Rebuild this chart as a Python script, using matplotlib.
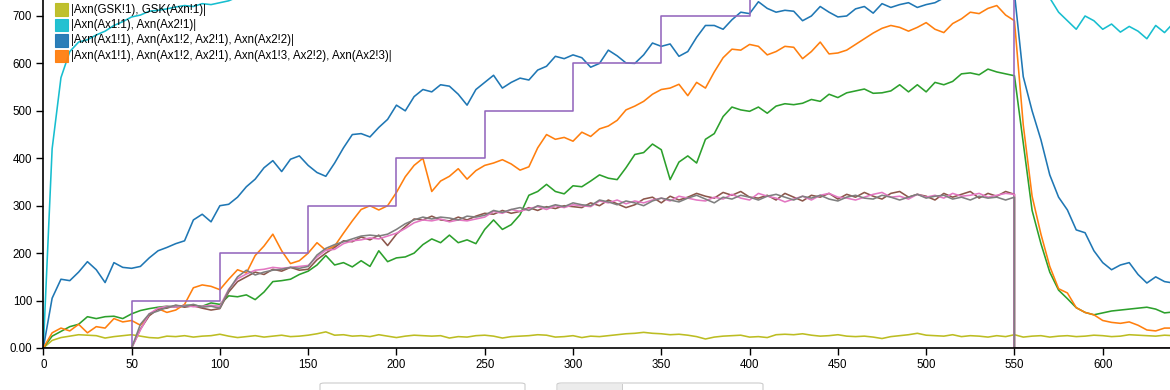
import matplotlib
matplotlib.use("Agg")
import matplotlib.pyplot as plt
from matplotlib.patches import Rectangle, FancyBboxPatch

# time axis, one sample every 5 units
time = list(range(0, 645, 5))
# the three saturating species only live between 50 and 550
time_mid = list(range(50, 555, 5))

olive = [0, 16, 22, 25, 28, 27, 26, 21, 24, 26,
         28, 25, 22, 21, 25, 24, 26, 23, 25, 26,
         29, 25, 22, 24, 26, 23, 25, 27, 24, 25,
         27, 30, 34, 27, 28, 25, 26, 24, 28, 25,
         22, 25, 27, 26, 25, 26, 21, 24, 23, 26,
         27, 25, 21, 24, 25, 26, 28, 27, 23, 24,
         26, 22, 25, 24, 26, 28, 30, 31, 33, 31,
         30, 28, 29, 27, 24, 19, 23, 25, 26, 27,
         23, 24, 22, 28, 29, 28, 30, 27, 25, 26,
         28, 25, 24, 25, 23, 20, 24, 26, 28, 31,
         27, 26, 25, 28, 24, 26, 25, 23, 26, 24,
         28, 23, 25, 26, 23, 25, 26, 24, 25, 27,
         26, 24, 25, 28, 27, 26, 25, 27, 26]

cyan = [0, 420, 570, 625, 645, 650, 660, 668, 680, 688,
        698, 702, 710, 712, 715, 719, 722, 720, 726, 724,
        728, 732, 740, 748, 752, 756, 760, 764, 766, 770,
        772, 775, 778, 780, 782, 784, 786, 788, 790, 792,
        794, 796, 795, 798, 797, 799, 800, 798, 801, 799,
        800, 802, 800, 803, 801, 800, 802, 804, 801, 803,
        802, 804, 803, 801, 805, 803, 802, 804, 803, 805,
        804, 802, 805, 803, 804, 806, 803, 805, 804, 806,
        805, 803, 806, 804, 805, 807, 804, 806, 805, 804,
        806, 805, 807, 804, 806, 805, 807, 806, 804, 806,
        805, 807, 806, 805, 807, 806, 804, 806, 807, 805,
        805, 785, 765, 750, 738, 708, 690, 672, 700, 690,
        672, 683, 666, 678, 668, 652, 680, 665, 685]

blue = [0, 105, 145, 142, 160, 182, 165, 138, 180, 170,
        168, 172, 190, 205, 212, 220, 226, 270, 282, 266,
        300, 303, 318, 340, 356, 380, 395, 372, 398, 405,
        385, 370, 362, 390, 422, 450, 452, 445, 465, 482,
        512, 500, 530, 545, 540, 555, 552, 535, 512, 545,
        560, 575, 548, 560, 569, 565, 586, 594, 615, 610,
        618, 612, 592, 600, 628, 616, 601, 600, 618, 643,
        636, 641, 615, 625, 655, 680, 680, 672, 692, 708,
        705, 730, 716, 708, 712, 710, 690, 700, 720, 708,
        698, 700, 715, 720, 706, 726, 718, 724, 728, 718,
        724, 728, 738, 745, 750, 748, 752, 748, 755, 750,
        748, 572, 500, 439, 365, 318, 291, 249, 243, 205,
        180, 165, 175, 180, 155, 137, 150, 140, 137]

orange = [0, 32, 42, 36, 50, 32, 45, 42, 62, 55,
          58, 48, 70, 83, 75, 80, 92, 127, 133, 130,
          123, 145, 165, 158, 195, 215, 240, 205, 178, 184,
          200, 222, 206, 215, 242, 268, 292, 300, 291, 300,
          328, 361, 385, 400, 330, 352, 362, 378, 356, 374,
          385, 390, 397, 388, 375, 382, 422, 450, 440, 444,
          436, 455, 446, 462, 468, 480, 502, 510, 520, 535,
          545, 548, 556, 532, 560, 548, 582, 612, 630, 628,
          640, 636, 618, 625, 636, 634, 610, 625, 645, 620,
          622, 628, 640, 652, 664, 674, 680, 676, 668, 676,
          686, 672, 665, 684, 694, 708, 705, 716, 722, 702,
          690, 470, 320, 240, 172, 125, 116, 85, 75, 70,
          58, 54, 52, 55, 48, 38, 36, 42, 42]

green = [0, 25, 35, 45, 50, 66, 62, 66, 67, 62,
         72, 79, 83, 86, 88, 86, 90, 90, 88, 95,
         92, 110, 108, 112, 102, 118, 140, 142, 145, 155,
         162, 175, 195, 175, 180, 171, 184, 172, 205, 182,
         190, 192, 200, 218, 230, 222, 238, 222, 228, 220,
         250, 270, 250, 260, 281, 322, 330, 345, 330, 325,
         342, 340, 352, 365, 358, 355, 380, 408, 412, 430,
         418, 355, 392, 405, 390, 440, 452, 488, 508, 502,
         499, 508, 495, 510, 515, 513, 516, 524, 520, 535,
         528, 538, 542, 546, 537, 538, 542, 555, 540, 555,
         540, 560, 555, 562, 578, 580, 576, 588, 582, 578,
         574, 432, 290, 220, 160, 122, 104, 85, 75, 70,
         74, 78, 80, 82, 84, 86, 82, 74, 76]

# step input (purple)
purple_t = [0, 50, 100, 150, 200, 250, 300, 350, 400, 550, 640]
purple_v = [0, 100, 200, 300, 400, 500, 600, 700, 800, 0, 0]

brown = [0, 40, 68, 82, 84, 90, 86, 89, 84, 80,
         83, 118, 140, 150, 160, 155, 166, 162, 170, 164,
         166, 186, 200, 212, 226, 224, 234, 228, 238, 216,
         240, 256, 272, 270, 278, 270, 268, 276, 270, 278,
         284, 282, 290, 284, 288, 296, 290, 298, 294, 300,
         298, 296, 306, 300, 312, 304, 296, 302, 314, 318,
         306, 320, 312, 318, 326, 320, 316, 328, 322, 330,
         318, 316, 322, 312, 326, 318, 310, 322, 318, 326,
         314, 324, 318, 328, 320, 314, 326, 330, 318, 324,
         320, 312, 326, 318, 324, 330, 316, 326, 320, 330,
         324]

pink = [0, 38, 72, 84, 88, 86, 90, 87, 88, 90,
        88, 124, 146, 156, 164, 166, 170, 168, 170, 172,
        174, 192, 206, 208, 220, 226, 228, 232, 230, 236,
        242, 252, 264, 270, 268, 272, 266, 270, 268, 272,
        276, 288, 284, 292, 288, 294, 298, 292, 300, 296,
        302, 300, 298, 310, 306, 312, 304, 310, 306, 312,
        316, 310, 320, 316, 312, 310, 318, 314, 324, 316,
        312, 326, 320, 316, 308, 314, 320, 312, 322, 326,
        318, 316, 312, 318, 324, 328, 318, 320, 314, 324,
        318, 322, 316, 326, 320, 322, 326, 318, 322, 326,
        324]

gray = [0, 50, 72, 78, 86, 90, 88, 92, 86, 88,
        84, 122, 150, 164, 154, 160, 164, 166, 170, 168,
        172, 196, 210, 218, 224, 230, 236, 238, 236, 240,
        250, 262, 270, 276, 272, 276, 274, 270, 278, 276,
        280, 290, 286, 292, 296, 290, 300, 296, 302, 298,
        306, 302, 300, 312, 308, 302, 310, 306, 300, 310,
        316, 312, 308, 316, 322, 314, 306, 318, 314, 322,
        318, 312, 320, 324, 318, 312, 320, 316, 322, 314,
        310, 318, 322, 316, 314, 322, 318, 312, 318, 324,
        316, 320, 322, 314, 318, 312, 320, 316, 318, 312,
        318]

legend_labels = ["|Axn(GSK!1), GSK(Axn!1)|",
                 "|Axn(Ax1!1), Axn(Ax2!1)|",
                 "|Axn(Ax1!1), Axn(Ax1!2, Ax2!1), Axn(Ax2!2)|",
                 "|Axn(Ax1!1), Axn(Ax1!2, Ax2!1), Axn(Ax1!3, Ax2!2), Axn(Ax2!3)|"]
legend_colors = ["#bcbd22", "#17becf", "#1f77b4", "#ff7f0e"]

x_ticks = list(range(0, 650, 50))
y_ticks = [0, 100, 200, 300, 400, 500, 600, 700]
y_tick_labels = ["0.00", "100", "200", "300", "400", "500", "600", "700"]

plt.rcParams["font.family"] = ["Liberation Sans", "DejaVu Sans"]

W, H = 1170, 390
fig = plt.figure(figsize=(W / 100, H / 100), dpi=100)
ax = fig.add_axes([43.3 / W, (H - 348) / H, (W - 43.3) / W, 348 / H])


def fx(px):
    return px / W


def fy(py):
    return 1 - py / H


lw = 1.15
ax.plot(time, olive, color="#bcbd22", lw=lw)
ax.plot(time, cyan, color="#17becf", lw=lw)
ax.plot(time, blue, color="#1f77b4", lw=lw)
ax.plot(time, green, color="#2ca02c", lw=lw)
ax.plot(time, orange, color="#ff7f0e", lw=lw)
ax.plot(purple_t, purple_v, color="#9467bd", lw=lw, drawstyle="steps-post")
for vals, col in [(brown, "#8c564b"), (pink, "#e377c2"), (gray, "#7f7f7f")]:
    xs = [0] + time_mid + [550, 640]
    ys = [0] + vals + [0, 0]
    ax.plot(xs, ys, color=col, lw=lw)

ax.set_xlim(0, 638.1)
ax.set_ylim(0, 733.7)
ax.set_xticks(x_ticks)
ax.set_yticks(y_ticks)
ax.set_yticklabels(y_tick_labels)
ax.tick_params(labelsize=8.3, length=5, width=1, colors="black", pad=3)
for s in ["top", "right"]:
    ax.spines[s].set_visible(False)
for s in ["left", "bottom"]:
    ax.spines[s].set_linewidth(1.2)
    ax.spines[s].set_color("black")

# legend drawn by hand at the top left
for i, (lab, col) in enumerate(zip(legend_labels, legend_colors)):
    top = 3 + i * 15.5
    fig.add_artist(Rectangle((fx(55), fy(top + 12.5)), 12.5 / W, 12.5 / H,
                             facecolor=col, edgecolor=col, alpha=0.95,
                             lw=0.8, transform=fig.transFigure))
    fig.text(fx(71), fy(top + 6.5), lab, fontsize=8.3, va="center",
             ha="left", color="black")

# bits of the page controls below the chart
fig.add_artist(FancyBboxPatch((fx(320), fy(398)), 205 / W, 15 / H,
                              boxstyle="round,pad=0,rounding_size=0.004",
                              facecolor="white", edgecolor="#cccccc", lw=0.8,
                              transform=fig.transFigure))
fig.add_artist(FancyBboxPatch((fx(557), fy(398)), 206 / W, 15 / H,
                              boxstyle="round,pad=0,rounding_size=0.004",
                              facecolor="white", edgecolor="#cccccc", lw=0.8,
                              transform=fig.transFigure))
fig.add_artist(Rectangle((fx(557.5), fy(398)), 64.5 / W, 14.5 / H,
                         facecolor="#ececec", edgecolor="none",
                         transform=fig.transFigure))
fig.add_artist(Rectangle((fx(622), fy(398)), 0.8 / W, 14.5 / H,
                         facecolor="#cccccc", edgecolor="none",
                         transform=fig.transFigure))

fig.savefig("out.png", dpi=100)
